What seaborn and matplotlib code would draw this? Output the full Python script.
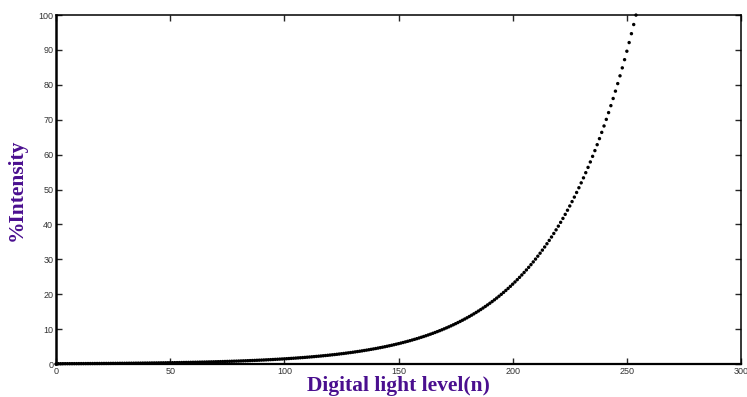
#!/usr/bin/env python3

import numpy as np
import pandas as pd
import seaborn as sns
import matplotlib

matplotlib.use("Agg")
import matplotlib.pyplot as plt

PURPLE = "#4a0f8f"

# digital level n = 0..254 (% intensity)
levels = list(range(0, 255))
intensity = [
    0.0,
    0.1000, 0.1028, 0.1056, 0.1085, 0.1115, 0.1146, 0.1178, 0.1211, 0.1244, 0.1279,
    0.1314, 0.1350, 0.1388, 0.1426, 0.1466, 0.1506, 0.1548, 0.1591, 0.1635, 0.1680,
    0.1726, 0.1774, 0.1823, 0.1874, 0.1926, 0.1979, 0.2034, 0.2090, 0.2148, 0.2207,
    0.2268, 0.2331, 0.2396, 0.2462, 0.2530, 0.2600, 0.2672, 0.2746, 0.2822, 0.2900,
    0.2981, 0.3063, 0.3148, 0.3235, 0.3325, 0.3417, 0.3511, 0.3608, 0.3708, 0.3811,
    0.3916, 0.4025, 0.4136, 0.4251, 0.4368, 0.4489, 0.4613, 0.4741, 0.4872, 0.5007,
    0.5146, 0.5288, 0.5435, 0.5585, 0.5740, 0.5898, 0.6062, 0.6229, 0.6402, 0.6579,
    0.6761, 0.6948, 0.7141, 0.7338, 0.7541, 0.7750, 0.7965, 0.8185, 0.8412, 0.8645,
    0.8884, 0.9130, 0.9382, 0.9642, 0.9909, 1.0183, 1.0465, 1.0755, 1.1052, 1.1358,
    1.1673, 1.1996, 1.2328, 1.2669, 1.3020, 1.3380, 1.3751, 1.4131, 1.4522, 1.4924,
    1.5337, 1.5762, 1.6198, 1.6646, 1.7107, 1.7581, 1.8067, 1.8567, 1.9081, 1.9609,
    2.0152, 2.0710, 2.1283, 2.1872, 2.2478, 2.3100, 2.3739, 2.4396, 2.5072, 2.5766,
    2.6479, 2.7212, 2.7965, 2.8739, 2.9534, 3.0352, 3.1192, 3.2055, 3.2943, 3.3854,
    3.4791, 3.5754, 3.6744, 3.7761, 3.8806, 3.9880, 4.0984, 4.2119, 4.3284, 4.4482,
    4.5714, 4.6979, 4.8279, 4.9616, 5.0989, 5.2400, 5.3851, 5.5341, 5.6873, 5.8447,
    6.0065, 6.1728, 6.3436, 6.5192, 6.6997, 6.8851, 7.0757, 7.2715, 7.4728, 7.6796,
    7.8922, 8.1106, 8.3351, 8.5658, 8.8029, 9.0466, 9.2970, 9.5543, 9.8187, 10.0905,
    10.370, 10.657, 10.952, 11.255, 11.566, 11.887, 12.216, 12.554, 12.901, 13.258,
    13.625, 14.002, 14.390, 14.788, 15.198, 15.618, 16.051, 16.495, 16.951, 17.421,
    17.903, 18.398, 18.908, 19.431, 19.969, 20.522, 21.090, 21.673, 22.273, 22.890,
    23.523, 24.174, 24.843, 25.531, 26.238, 26.964, 27.710, 28.477, 29.266, 30.076,
    30.908, 31.763, 32.643, 33.546, 34.475, 35.429, 36.410, 37.418, 38.453, 39.518,
    40.611, 41.735, 42.890, 44.078, 45.298, 46.552, 47.840, 49.164, 50.525, 51.923,
    53.360, 54.838, 56.355, 57.915, 59.518, 61.166, 62.859, 64.598, 66.386, 68.224,
    70.112, 72.053, 74.047, 76.097, 78.203, 80.368, 82.592, 84.878, 87.227, 89.642,
    92.123, 94.673, 97.294, 100.0,
]

x_ticks = [0, 50, 100, 150, 200, 250, 300]
y_ticks = [0, 10, 20, 30, 40, 50, 60, 70, 80, 90, 100]


def main():
    sns.set_style("ticks")
    plt.rcParams["font.family"] = ["Liberation Sans", "DejaVu Sans"]

    df = pd.DataFrame({"n": levels, "intensity": intensity})

    fig = plt.figure(figsize=(7.47, 3.97), dpi=100)
    ax = fig.add_axes([0.075, 0.083, 0.917, 0.879])

    sns.scatterplot(
        data=df,
        x="n",
        y="intensity",
        color="black",
        s=6,
        marker="o",
        edgecolor="none",
        ax=ax,
        clip_on=False,
    )

    ax.set_xlim(0, 300)
    ax.set_ylim(0, 100)
    ax.set_xticks(x_ticks)
    ax.set_yticks(y_ticks)
    ax.tick_params(
        direction="in",
        top=True,
        right=True,
        length=4,
        width=1,
        labelsize=6.5,
        labelcolor="#333333",
        pad=2,
    )
    for side in ax.spines.values():
        side.set_linewidth(1.1)
        side.set_color("black")
    ax.spines["left"].set_linewidth(1.8)
    ax.spines["bottom"].set_linewidth(1.6)

    ax.set_xlabel(
        "Digital light level(n)",
        family=["Liberation Serif", "DejaVu Serif"],
        fontsize=15.5,
        fontweight="bold",
        color=PURPLE,
        labelpad=0,
    )
    ax.set_ylabel(
        "%Intensity",
        family=["Liberation Serif", "DejaVu Serif"],
        fontsize=15.5,
        fontweight="bold",
        color=PURPLE,
        labelpad=8,
    )

    fig.savefig("out.png", dpi=100)


if __name__ == "__main__":
    main()
